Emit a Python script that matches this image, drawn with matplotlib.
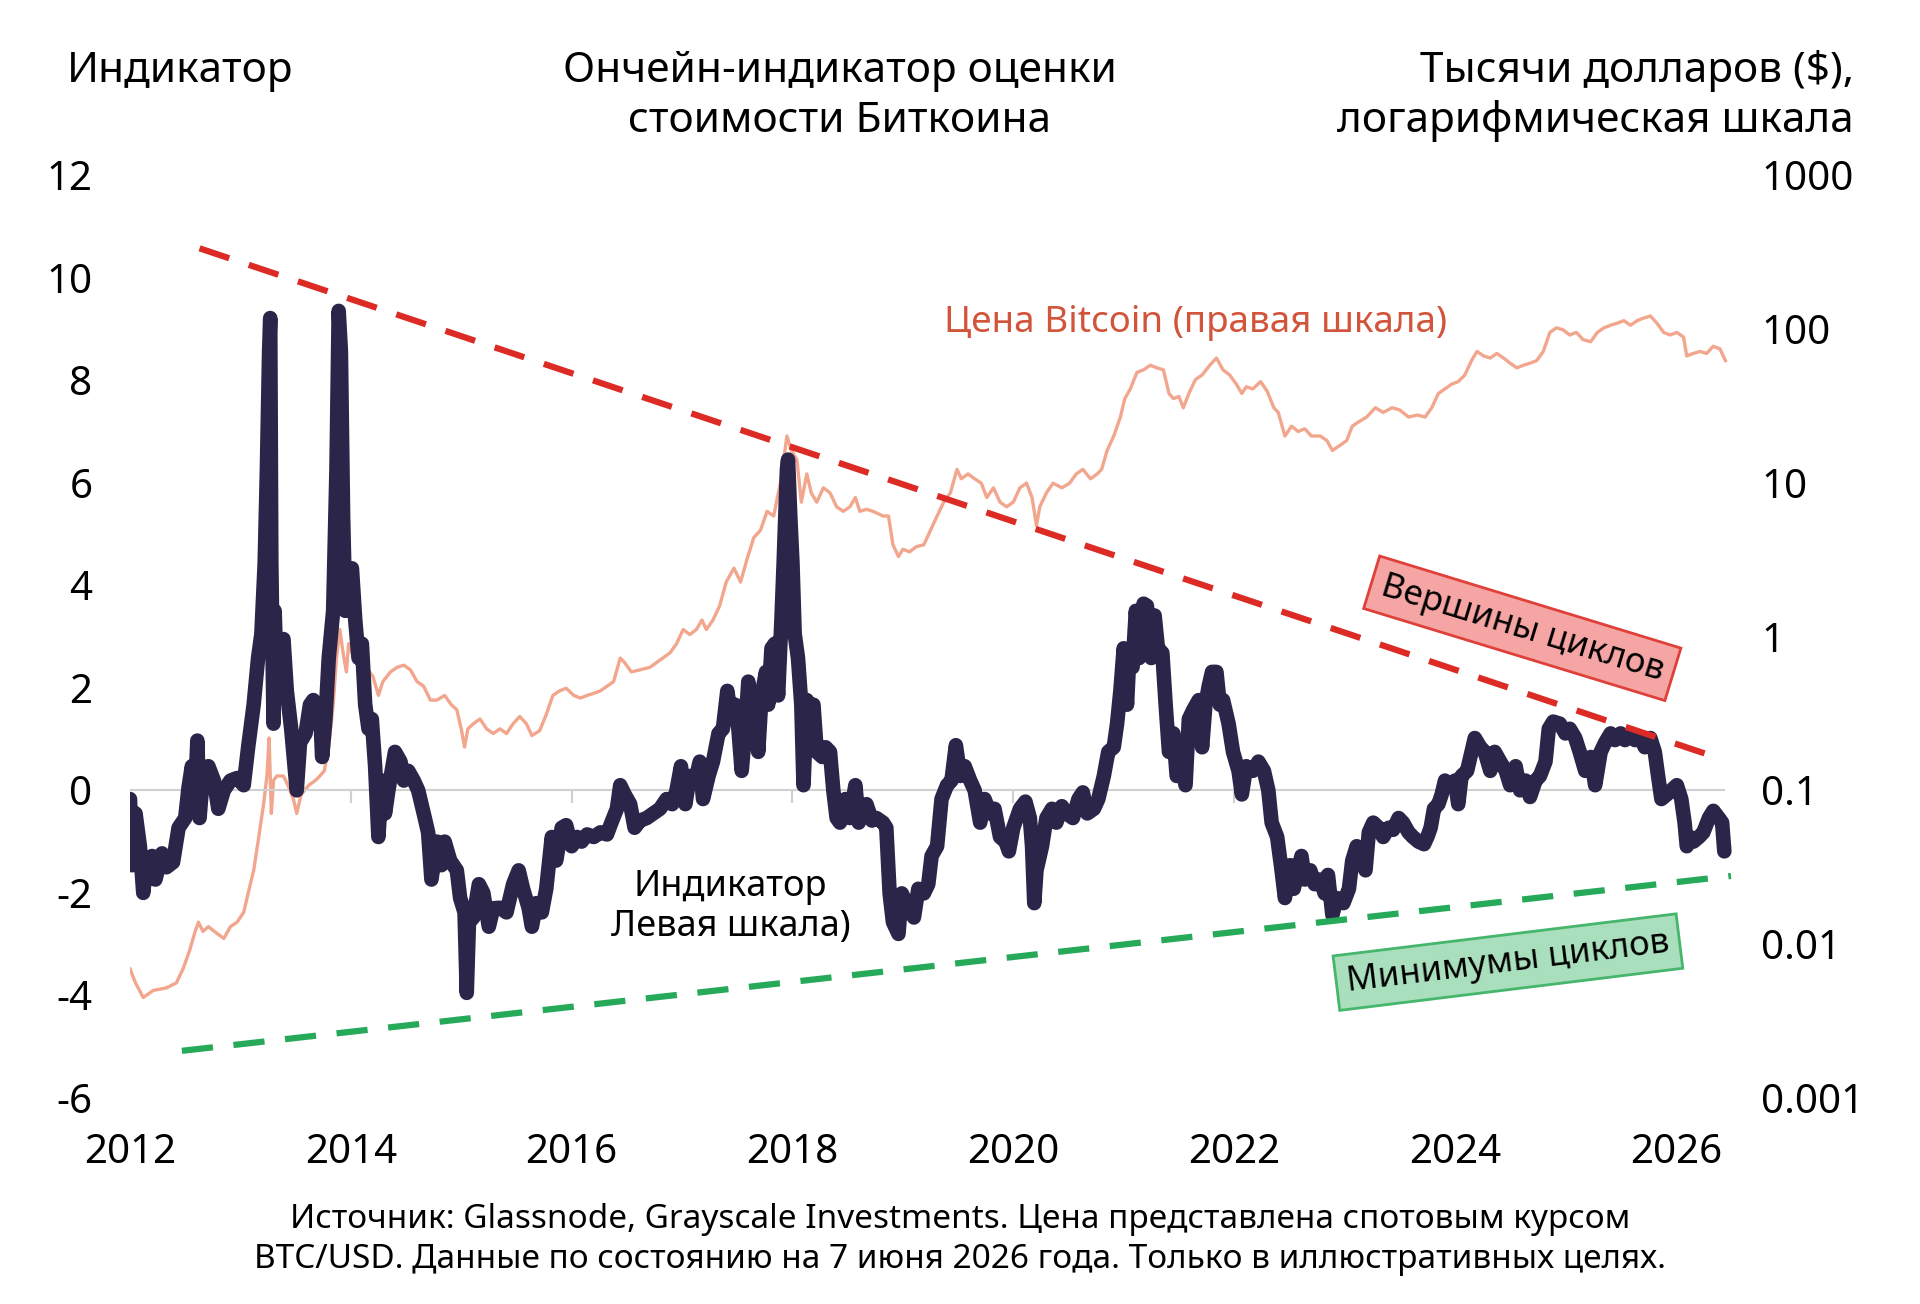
import matplotlib
matplotlib.use("Agg")
import matplotlib.pyplot as plt
from matplotlib.ticker import NullLocator

plt.rcParams['font.family'] = ['Noto Sans', 'DejaVu Sans']
plt.rcParams['axes.unicode_minus'] = False

# indicator (left scale)
ind_years = [
    2012.00, 2012.02, 2012.05, 2012.09, 2012.12, 2012.15, 2012.20, 2012.23, 2012.29, 2012.33,
    2012.39, 2012.44, 2012.50, 2012.53, 2012.56, 2012.59, 2012.61, 2012.63, 2012.66, 2012.71,
    2012.76, 2012.80, 2012.85, 2012.91, 2012.97, 2013.03, 2013.07, 2013.12, 2013.16, 2013.19,
    2013.22, 2013.24, 2013.26, 2013.27, 2013.28, 2013.30, 2013.31, 2013.33, 2013.36, 2013.39,
    2013.42, 2013.46, 2013.51, 2013.54, 2013.59, 2013.63, 2013.66, 2013.69, 2013.72, 2013.74,
    2013.77, 2013.80, 2013.84, 2013.87, 2013.89, 2013.91, 2013.93, 2013.95, 2013.98, 2014.01,
    2014.04, 2014.07, 2014.10, 2014.13, 2014.16, 2014.19, 2014.22, 2014.25, 2014.28, 2014.31,
    2014.34, 2014.37, 2014.40, 2014.45, 2014.48, 2014.52, 2014.57, 2014.61, 2014.66, 2014.70,
    2014.73, 2014.78, 2014.82, 2014.85, 2014.90, 2014.96, 2014.99, 2015.03, 2015.05, 2015.07,
    2015.11, 2015.16, 2015.20, 2015.25, 2015.29,
    2015.35, 2015.41, 2015.47, 2015.52, 2015.56, 2015.61, 2015.64, 2015.68, 2015.73, 2015.77,
    2015.82, 2015.86, 2015.91, 2015.95, 2016.00, 2016.05, 2016.09, 2016.14, 2016.20, 2016.26,
    2016.32, 2016.36, 2016.41, 2016.44, 2016.48, 2016.53, 2016.57, 2016.62, 2016.68, 2016.74,
    2016.80, 2016.86, 2016.91, 2016.95, 2016.99, 2017.03, 2017.07, 2017.12, 2017.16, 2017.19,
    2017.24, 2017.28, 2017.33, 2017.37, 2017.41, 2017.44, 2017.48, 2017.51, 2017.54, 2017.57,
    2017.60, 2017.63, 2017.66, 2017.69, 2017.72, 2017.76, 2017.78, 2017.81, 2017.84, 2017.87,
    2017.90, 2017.92, 2017.95, 2017.96, 2017.98, 2018.00, 2018.02, 2018.05, 2018.08, 2018.10,
    2018.13, 2018.16, 2018.19, 2018.22, 2018.27, 2018.30, 2018.34, 2018.37, 2018.40, 2018.43,
    2018.48, 2018.52, 2018.57, 2018.60, 2018.63, 2018.67, 2018.72, 2018.76, 2018.82,
    2018.85, 2018.88, 2018.91, 2018.96, 2018.99, 2019.03, 2019.10, 2019.14, 2019.19, 2019.23,
    2019.26, 2019.31, 2019.35, 2019.40, 2019.44, 2019.48, 2019.52, 2019.56, 2019.61, 2019.65,
    2019.70, 2019.74, 2019.79, 2019.83, 2019.88, 2019.93, 2019.96, 2020.00, 2020.06, 2020.11,
    2020.15, 2020.17, 2020.19, 2020.21, 2020.26, 2020.30, 2020.35, 2020.39, 2020.44, 2020.48,
    2020.54, 2020.59, 2020.63, 2020.67, 2020.73, 2020.77, 2020.82, 2020.86, 2020.91, 2020.94,
    2020.97, 2021.00, 2021.03, 2021.05, 2021.08, 2021.11, 2021.14, 2021.18, 2021.21, 2021.25,
    2021.28, 2021.31, 2021.35, 2021.38, 2021.41, 2021.45, 2021.48, 2021.53, 2021.56, 2021.59,
    2021.63, 2021.68, 2021.71, 2021.74, 2021.77, 2021.80, 2021.84, 2021.87, 2021.90, 2021.95,
    2021.99, 2022.04, 2022.07, 2022.11, 2022.17, 2022.22, 2022.27, 2022.31, 2022.34, 2022.39,
    2022.43, 2022.46, 2022.51, 2022.54, 2022.58, 2022.61, 2022.64, 2022.69, 2022.73, 2022.78,
    2022.82, 2022.85, 2022.89, 2022.93, 2022.99, 2023.04, 2023.07, 2023.11, 2023.16, 2023.19,
    2023.22, 2023.26, 2023.31, 2023.35, 2023.40, 2023.44, 2023.49, 2023.53, 2023.58, 2023.62,
    2023.67, 2023.72, 2023.75, 2023.78, 2023.81, 2023.85, 2023.88, 2023.91, 2023.96, 2024.00,
    2024.03, 2024.06, 2024.11, 2024.15, 2024.18, 2024.23, 2024.27, 2024.32, 2024.36, 2024.41,
    2024.46, 2024.50, 2024.55, 2024.59, 2024.64, 2024.68, 2024.73, 2024.77, 2024.82, 2024.85,
    2024.89, 2024.95, 2025.00, 2025.04, 2025.09, 2025.13, 2025.18, 2025.23, 2025.27, 2025.32,
    2025.36, 2025.41, 2025.45, 2025.50, 2025.54, 2025.59, 2025.63, 2025.68, 2025.72, 2025.77,
    2025.81, 2025.84, 2025.87, 2025.92, 2025.96, 2026.01, 2026.05, 2026.08, 2026.10, 2026.13,
    2026.16, 2026.21, 2026.25, 2026.30, 2026.34, 2026.39, 2026.42, 2026.44,
]
ind_values = [
    -0.17, -1.46, -0.45, -1.10, -2.00, -1.37, -1.28, -1.74, -1.23, -1.50,
    -1.40, -0.73, -0.54, 0.05, 0.47, -0.08, 0.97, -0.54, 0.28, 0.47,
    0.19, -0.36, 0.00, 0.19, 0.24, 0.10, 0.84, 1.67, 2.58, 3.05,
    4.43, 6.26, 8.56, 9.21, 4.43, 1.30, 3.50, 2.10, 2.86, 2.95,
    1.94, 1.20, 0.00, 0.93, 1.11, 1.67, 1.76, 1.30, 1.67, 0.65,
    1.39, 2.58, 3.50, 6.26, 9.35, 8.56, 5.35, 3.50, 3.97, 4.33,
    3.32, 2.58, 2.86, 1.67, 1.20, 1.39, 0.47, -0.91, 0.19, -0.45,
    0.00, 0.38, 0.75, 0.56, 0.19, 0.38, 0.19, 0.00, -0.45, -0.82,
    -1.74, -1.00, -1.46, -1.00, -1.37, -1.56, -2.10, -2.38, -3.95, -2.57,
    -2.48, -1.83, -2.00, -2.66, -2.30,
    -2.29, -2.38, -1.83, -1.56, -1.92, -2.29, -2.66, -2.20, -2.38, -1.92,
    -0.91, -1.37, -0.73, -0.68, -1.09, -0.91, -1.00, -0.86, -0.91, -0.82,
    -0.86, -0.63, -0.36, 0.10, -0.08, -0.27, -0.73, -0.59, -0.54, -0.45,
    -0.36, -0.17, -0.27, 0.00, 0.47, -0.27, 0.28, 0.19, 0.56, -0.17,
    0.28, 0.56, 1.11, 1.20, 1.94, 1.48, 1.67, 1.20, 0.38, 1.11,
    2.12, 1.48, 1.76, 0.75, 1.85, 2.31, 1.67, 2.77, 2.86, 1.85,
    3.32, 4.43, 6.26, 6.45, 5.35, 4.43, 3.05, 2.58, 1.67, 0.10,
    1.76, 1.48, 1.67, 0.75, 0.65, 0.84, 0.75, 0.00, -0.54, -0.63,
    -0.17, -0.54, 0.10, -0.63, -0.45, -0.27, -0.59, -0.54, -0.63,
    -0.73, -2.01, -2.57, -2.80, -2.01, -2.20, -2.48, -1.92, -2.01, -1.83,
    -1.28, -1.09, -0.17, 0.10, 0.19, 0.88, 0.28, 0.47, 0.19, 0.00,
    -0.63, -0.17, -0.45, -0.36, -0.91, -1.00, -1.19, -0.73, -0.36, -0.22,
    -0.54, -1.09, -2.20, -1.56, -1.09, -0.54, -0.36, -0.63, -0.31, -0.45,
    -0.54, -0.17, -0.04, -0.45, -0.36, -0.17, 0.28, 0.75, 0.84, 1.30,
    1.94, 2.77, 1.67, 2.58, 2.40, 3.50, 2.58, 3.64, 3.60, 2.58,
    3.41, 2.77, 2.68, 1.67, 0.75, 1.11, 0.28, 0.47, 0.10, 1.39,
    1.57, 1.76, 0.84, 1.67, 2.03, 2.31, 2.31, 1.67, 1.76, 1.30,
    0.75, 0.38, -0.08, 0.47, 0.38, 0.56, 0.38, 0.00, -0.63, -0.91,
    -1.56, -2.10, -1.46, -1.92, -1.56, -1.28, -1.74, -1.56, -1.83, -1.74,
    -2.01, -1.65, -2.43, -2.10, -2.20, -1.92, -1.37, -1.09, -1.19, -1.56,
    -0.82, -0.63, -0.73, -0.91, -0.73, -0.77, -0.54, -0.63, -0.82, -0.91,
    -1.00, -1.05, -0.91, -0.73, -0.36, -0.27, -0.08, 0.19, 0.10, 0.19,
    -0.27, 0.28, 0.38, 0.75, 1.02, 0.84, 0.75, 0.38, 0.75, 0.56,
    0.38, 0.10, 0.47, 0.00, 0.19, -0.13, 0.19, 0.28, 0.56, 1.20,
    1.34, 1.30, 1.11, 1.20, 1.02, 0.75, 0.38, 0.65, 0.10, 0.75,
    0.93, 1.11, 0.98, 1.11, 0.98, 1.11, 0.98, 1.02, 0.84, 1.02,
    0.75, 0.28, -0.17, -0.08, 0.00, 0.10, -0.17, -0.63, -1.09, -0.91,
    -1.00, -0.91, -0.82, -0.54, -0.40, -0.54, -0.63, -1.19,
]

# Bitcoin price, thousand $ (right log scale)
price_years = [
    2012.00, 2012.05, 2012.12, 2012.21, 2012.33, 2012.42, 2012.48, 2012.54, 2012.59, 2012.62,
    2012.66, 2012.71, 2012.79, 2012.85, 2012.91, 2012.97, 2013.03, 2013.07, 2013.12, 2013.16,
    2013.21, 2013.24, 2013.26, 2013.28, 2013.30, 2013.33, 2013.39, 2013.43, 2013.48, 2013.51,
    2013.55, 2013.62, 2013.68, 2013.72, 2013.76, 2013.80, 2013.84, 2013.87, 2013.90, 2013.93,
    2013.96, 2013.98, 2014.01, 2014.05, 2014.10, 2014.14, 2014.20, 2014.25, 2014.29, 2014.36,
    2014.42, 2014.48, 2014.54, 2014.60, 2014.66, 2014.72, 2014.78, 2014.85, 2014.91, 2014.96,
    2015.00, 2015.03, 2015.06, 2015.11, 2015.17, 2015.23, 2015.29,
    2015.35, 2015.41, 2015.47, 2015.53, 2015.59, 2015.64, 2015.71, 2015.77, 2015.83, 2015.89,
    2015.95, 2016.02, 2016.08, 2016.14, 2016.20, 2016.26, 2016.32, 2016.38, 2016.44, 2016.48,
    2016.54, 2016.62, 2016.71, 2016.80, 2016.89, 2016.95, 2017.01, 2017.07, 2017.13, 2017.18,
    2017.22, 2017.28, 2017.34, 2017.40, 2017.47, 2017.53, 2017.59, 2017.65, 2017.71, 2017.77,
    2017.83, 2017.89, 2017.92, 2017.95, 2017.99, 2018.04, 2018.08, 2018.13, 2018.17, 2018.22,
    2018.28, 2018.34, 2018.40, 2018.46, 2018.52, 2018.57, 2018.61, 2018.67, 2018.73, 2018.82,
    2018.87, 2018.91, 2018.96, 2019.00, 2019.06, 2019.12, 2019.19, 2019.25, 2019.31, 2019.37,
    2019.43, 2019.49, 2019.53, 2019.59, 2019.65, 2019.71, 2019.76, 2019.82, 2019.88, 2019.94,
    2020.00, 2020.06, 2020.12, 2020.17, 2020.21, 2020.24, 2020.30, 2020.36, 2020.44, 2020.51,
    2020.57, 2020.63, 2020.70, 2020.76, 2020.80, 2020.85, 2020.91, 2020.97, 2021.01, 2021.06,
    2021.12, 2021.18, 2021.24, 2021.30, 2021.36, 2021.41, 2021.45, 2021.50, 2021.54, 2021.59,
    2021.65, 2021.71, 2021.78, 2021.84, 2021.90, 2021.96, 2022.02, 2022.07, 2022.11, 2022.17,
    2022.24, 2022.30, 2022.36, 2022.40,
    2022.46, 2022.52, 2022.58, 2022.64, 2022.70, 2022.78, 2022.84, 2022.89, 2022.96, 2023.02,
    2023.07, 2023.13, 2023.20, 2023.28, 2023.35, 2023.43, 2023.50, 2023.58, 2023.66, 2023.73,
    2023.79, 2023.85, 2023.91, 2023.97, 2024.03, 2024.09, 2024.15, 2024.20, 2024.26, 2024.32,
    2024.38, 2024.44, 2024.50, 2024.56, 2024.62, 2024.68, 2024.74, 2024.80, 2024.86, 2024.92,
    2024.98, 2025.04, 2025.10, 2025.16, 2025.23, 2025.29, 2025.35, 2025.41, 2025.47, 2025.53,
    2025.59, 2025.65, 2025.71, 2025.77, 2025.83, 2025.89, 2025.95, 2026.01, 2026.07, 2026.10,
    2026.16, 2026.22, 2026.28, 2026.34, 2026.40, 2026.45,
]
price_values = [
    0.0069, 0.0056, 0.0045, 0.0050, 0.0052, 0.0056, 0.0069, 0.0091, 0.0121, 0.0139,
    0.0121, 0.0130, 0.0117, 0.0109, 0.0130, 0.0139, 0.0161, 0.0214, 0.0302, 0.0464,
    0.0813, 0.124, 0.219, 0.0708, 0.116, 0.124, 0.124, 0.108, 0.0878, 0.0708,
    0.094, 0.108, 0.116, 0.124, 0.134, 0.191, 0.360, 0.724, 1.113, 0.782,
    0.589, 0.898, 0.782, 0.838, 0.724, 0.631, 0.550, 0.414, 0.509, 0.589,
    0.631, 0.651, 0.607, 0.509, 0.475, 0.386, 0.386, 0.414, 0.360, 0.334,
    0.251, 0.191, 0.251, 0.271, 0.291, 0.251, 0.234,
    0.251, 0.234, 0.271, 0.302, 0.271, 0.227, 0.244, 0.311, 0.414, 0.443,
    0.461, 0.414, 0.398, 0.414, 0.427, 0.443, 0.475, 0.509, 0.724, 0.676,
    0.589, 0.607, 0.631, 0.703, 0.782, 0.898, 1.11, 1.03, 1.11, 1.28,
    1.11, 1.28, 1.58, 2.26, 2.78, 2.26, 3.21, 4.40, 4.90, 6.51,
    6.07, 9.93, 14.1, 20.1, 16.2, 14.1, 7.47, 11.4, 8.58, 7.47,
    9.26, 8.58, 6.97, 6.51, 6.97, 8.0, 6.51, 6.71, 6.51, 6.07,
    6.07, 3.95, 3.31, 3.69, 3.55, 3.83, 3.95, 4.90, 6.07, 7.47,
    8.58, 12.2, 10.6, 11.4, 10.6, 9.93, 8.0, 9.26, 7.47, 6.97,
    7.47, 9.26, 9.93, 8.0, 5.25, 6.97, 8.58, 9.93, 9.26, 9.93,
    11.4, 12.2, 10.6, 11.4, 12.2, 16.2, 20.1, 26.7, 35.2, 40.7,
    52.1, 54.1, 58.0, 55.8, 54.1, 38.0, 35.2, 36.3, 30.7, 38.0,
    46.8, 50.1, 58.0, 64.6, 54.1, 50.1, 43.7, 38.0, 42.0, 40.7,
    45.4, 39.2, 30.7, 28.6,
    20.1, 23.3, 21.5, 22.4, 20.1, 20.1, 18.8, 16.2, 17.5, 18.8,
    23.3, 24.9, 26.7, 30.7, 28.6, 30.7, 29.7, 26.7, 27.5, 26.7,
    30.7, 38.0, 40.7, 43.7, 45.4, 50.1, 62.1, 71.3, 66.6, 64.6,
    69.2, 64.6, 59.8, 55.8, 58.0, 59.8, 62.1, 71.3, 94.8, 101.6,
    98.5, 91.2, 94.8, 85.1, 82.5, 94.8, 101.6, 105.5, 108.8, 113.0,
    105.5, 113.0, 117.5, 121.2, 108.8, 94.8, 91.2, 94.8, 88.4, 66.6,
    69.2, 71.3, 69.2, 77.0, 74.1, 62.1,
]

# cycle trend lines (left scale)
peak_line_x = [2012.63, 2026.33]
peak_line_y = [10.57, 0.67]
low_line_x = [2012.47, 2026.50]
low_line_y = [-5.08, -1.67]

left_ticks = [-6, -4, -2, 0, 2, 4, 6, 8, 10, 12]
right_ticks = [0.001, 0.01, 0.1, 1, 10, 100, 1000]
right_labels = ['0.001', '0.01', '0.1', '1', '10', '100', '1000']
year_ticks = [2012, 2014, 2016, 2018, 2020, 2022, 2024, 2026]

fig = plt.figure(figsize=(19.2, 13.04), dpi=100)
ax = fig.add_axes([130 / 1920, 1 - 1098 / 1304, 1612 / 1920, 923 / 1304])
ax2 = ax.twinx()
ax.set_zorder(2)
ax.patch.set_visible(False)

# price on right log axis
ax2.plot(price_years, price_values, color='#f2a68d', lw=2.4)
ax2.set_yscale('log')
ax2.set_ylim(0.001, 1000)
ax2.set_yticks(right_ticks)
ax2.set_yticklabels(right_labels)
ax2.yaxis.set_minor_locator(NullLocator())
ax2.tick_params(axis='y', length=0, pad=14, labelsize=29)

# indicator
ax.hlines(0, 2012, 2026.45, color='#d0d0d0', lw=1.5, zorder=1)
ax.vlines(year_ticks[1:], -0.25, 0, color='#d0d0d0', lw=1.5, zorder=1)
ax.plot(ind_years, ind_values, color='#2b2549', lw=10.5,
        solid_joinstyle='round', solid_capstyle='round', zorder=3)
ax.plot(peak_line_x, peak_line_y, color='#dc2b25', lw=4.5, dashes=(5, 3.3), zorder=4)
ax.plot(low_line_x, low_line_y, color='#27a95a', lw=4.5, dashes=(5, 3.3), zorder=4)

ax.set_xlim(2012, 2026.6)
ax.set_ylim(-6, 12)
ax.set_yticks(left_ticks)
ax.set_yticklabels([str(t) for t in left_ticks])
ax.set_xticks(year_ticks)
ax.set_xticklabels([str(y) for y in year_ticks])
ax.tick_params(axis='y', length=0, pad=27, labelsize=29)
ax.tick_params(axis='x', length=0, pad=25, labelsize=29)
for a in (ax, ax2):
    for s in a.spines.values():
        s.set_visible(False)

# labels inside the chart
ax.text(2021.65, 8.93, 'Цена Bitcoin (правая шкала)', color='#d2543a',
        fontsize=26.5, ha='center', va='baseline', zorder=5)
ax.text(2017.44, -2.07, 'Индикатор', fontsize=26, ha='center', va='baseline', zorder=5)
ax.text(2017.44, -2.85, 'Левая шкала)', fontsize=26, ha='center', va='baseline', zorder=5)

ax.text(2024.61, 3.16, 'Вершины циклов', fontsize=25, ha='center', va='center',
        rotation=-17, rotation_mode='anchor', zorder=6,
        bbox=dict(boxstyle='square,pad=0.3', fc='#f5a5a3', ec='#e0403a', lw=2))
ax.text(2024.48, -3.35, 'Минимумы циклов', fontsize=25, ha='center', va='center',
        rotation=7, rotation_mode='anchor', zorder=6,
        bbox=dict(boxstyle='square,pad=0.3', fc='#aadfbd', ec='#45b66c', lw=2))

# headers
fig.text(67 / 1920, 1 - 82 / 1304, 'Индикатор', fontsize=30.5, ha='left', va='baseline')
fig.text(840 / 1920, 1 - 82 / 1304, 'Ончейн-индикатор оценки', fontsize=30.5, ha='center', va='baseline')
fig.text(840 / 1920, 1 - 132 / 1304, 'стоимости Биткоина', fontsize=30.5, ha='center', va='baseline')
fig.text(1854 / 1920, 1 - 82 / 1304, 'Тысячи долларов ($),', fontsize=30.5, ha='right', va='baseline')
fig.text(1854 / 1920, 1 - 132 / 1304, 'логарифмическая шкала', fontsize=30.5, ha='right', va='baseline')

# footer
fig.text(0.5, 1 - 1228 / 1304,
         'Источник: Glassnode, Grayscale Investments. Цена представлена спотовым курсом',
         fontsize=24, ha='center', va='baseline')
fig.text(0.5, 1 - 1268 / 1304,
         'BTC/USD. Данные по состоянию на 7 июня 2026 года. Только в иллюстративных целях.',
         fontsize=24, ha='center', va='baseline')

fig.savefig('out.png', dpi=100, facecolor='white')
